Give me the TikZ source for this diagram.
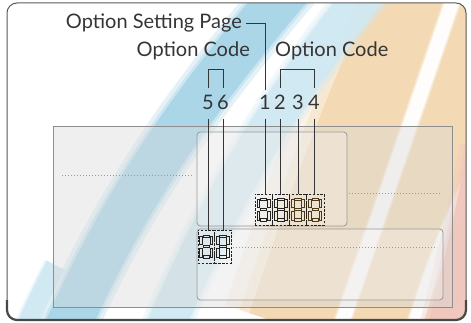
\documentclass[tikz,border=0pt]{standalone}
\usepackage{fontspec}
\setmainfont{Lato}
\definecolor{bandblue}{HTML}{A8D5E8}
\definecolor{bandbluelt}{HTML}{D0E9F3}
\definecolor{bandorange}{HTML}{F3D9B2}
\definecolor{bandpink}{HTML}{F0C6BC}
\definecolor{ink}{HTML}{353535}
\definecolor{framecol}{HTML}{5A5A5A}
\definecolor{boxline}{HTML}{8E8E8E}
\definecolor{dotcol}{HTML}{9A9A9A}
\definecolor{digitdark}{HTML}{222222}
\definecolor{digitbrown}{HTML}{4A3A18}
\newcommand{\softband}[3]{%
  \foreach \k/\o in {1.3/0.3,1.12/0.4,1/0.9}{%
    \draw[#1,line width=\k*#2,opacity=\o,line cap=butt] #3;}}
\begin{document}
\begin{tikzpicture}[x=1pt,y=-1pt,
  lbl/.style={text=ink,font=\fontsize{20}{22}\selectfont,inner sep=0pt},
  num/.style={text=ink,font=\fontsize{20}{22}\selectfont,inner sep=0pt,anchor=base},
  conn/.style={draw=ink,line width=0.9pt},
  cell/.style={draw=digitdark,dash pattern=on 2.4pt off 1.4pt,line width=0.9pt,inner sep=0pt},
  panel/.style={draw=boxline,line width=0.8pt,fill=black!15,fill opacity=0.4},
  subpanel/.style={draw=boxline!90,line width=0.8pt,rounded corners=3.5pt,fill=white,fill opacity=0.25},
  dotline/.style={draw=dotcol,line width=0.7pt,dash pattern=on 0.8pt off 2.2pt},
  eightdigit/.pic={
    \foreach \a/\b/\c/\d in {-3.2/-11.5/3.2/-8.8, -3.2/-1.35/3.2/1.35, -3.2/8.8/3.2/11.5,
        -6.5/-10.5/-3.8/-1.9, 3.8/-10.5/6.5/-1.9, -6.5/1.9/-3.8/10.5, 3.8/1.9/6.5/10.5}
      {\draw[line width=0.9pt] (\a,\b) rectangle (\c,\d);}
  }]
\useasboundingbox (0,0) rectangle (471,323);
% background bands
\begin{scope}
\clip[rounded corners=10pt] (7,3) rectangle (466,320);
\fill[white] (0,0) rectangle (471,323);
\softband{bandorange}{170}{(330,340) .. controls (370,220) and (410,110) .. (470,-15)}
\softband{white}{14}{(336,340) -- (458,-15)}
\softband{white}{14}{(410,340) .. controls (428,280) and (450,220) .. (485,150)}
\softband{bandpink}{55}{(452,340) .. controls (468,280) and (480,230) .. (495,150)}
\softband{bandbluelt}{38}{(160,340) .. controls (210,220) and (270,110) .. (372,-15)}
\softband{bandbluelt}{18}{(20,340) .. controls (30,315) and (42,290) .. (55,265)}
\softband{bandblue}{45}{(62,340) .. controls (120,205) and (190,105) .. (292,-15)}
\end{scope}
% outer frame
\draw[framecol,line width=1pt,rounded corners=10pt] (7,3) rectangle (466,320);
\draw[framecol!80!black,line width=2.2pt,rounded corners=10pt] (7,300) -- (7,320) -- (466,320) -- (466,300);
% panels
\draw[panel] (53,126) rectangle (452,307);
\draw[subpanel] (197,132) rectangle (347,226);
\draw[subpanel] (197,229) rectangle (443,300);
\draw[dotline] (62,175) -- (192,175);
\draw[dotline] (349,193) -- (440,193);
\draw[dotline] (233,247) -- (437,247);
% digit cells
\node[cell,minimum width=17.25pt,minimum height=31pt] (d1) at (263.6,209.5) {};
\node[cell,minimum width=17.25pt,minimum height=31pt] (d2) at (280.9,209.5) {};
\node[cell,minimum width=17.25pt,minimum height=31pt] (d3) at (298.1,209.5) {};
\node[cell,minimum width=17.25pt,minimum height=31pt] (d4) at (315.4,209.5) {};
\node[cell,minimum width=16.5pt,minimum height=33pt] (d5) at (206.25,246.5) {};
\node[cell,minimum width=16.5pt,minimum height=33pt] (d6) at (222.75,246.5) {};
\begin{scope}[digitdark]
\pic at (d1.center) {eightdigit};
\pic at (d2.center) {eightdigit};
\pic at (d5.center) {eightdigit};
\pic at (d6.center) {eightdigit};
\end{scope}
\begin{scope}[digitbrown]
\pic at (d3.center) {eightdigit};
\pic at (d4.center) {eightdigit};
\end{scope}
% labels
\node[lbl,anchor=base east] (osp) at (242,29) {Option Setting Page};
\node[lbl,anchor=base east] (oc1) at (250,57) {Option Code};
\node[lbl,anchor=base west] (oc2) at (275,57) {Option Code};
\node[num] (n5) at (208,110) {5};
\node[num] (n6) at (223,110) {6};
\node[num] (n1) at (265,110) {1};
\node[num] (n2) at (280,110) {2};
\node[num] (n3) at (298,110) {3};
\node[num] (n4) at (314,110) {4};
% connectors
\draw[conn] ([xshift=4pt]osp.east) -| ([yshift=20pt]n1.base);
\draw[conn] ([yshift=22pt]n5.base) -- ++(0,-19) -| ([yshift=22pt]n6.base);
\draw[conn] ([yshift=22pt]n2.base) -- ++(0,-19) -| ([yshift=22pt]n4.base);
\foreach \n in {1,2,3,4,5,6}{
  \draw[conn] ([yshift=-9pt]n\n.base) -- (n\n.base |- d\n.north);
}
\end{tikzpicture}
\end{document}
